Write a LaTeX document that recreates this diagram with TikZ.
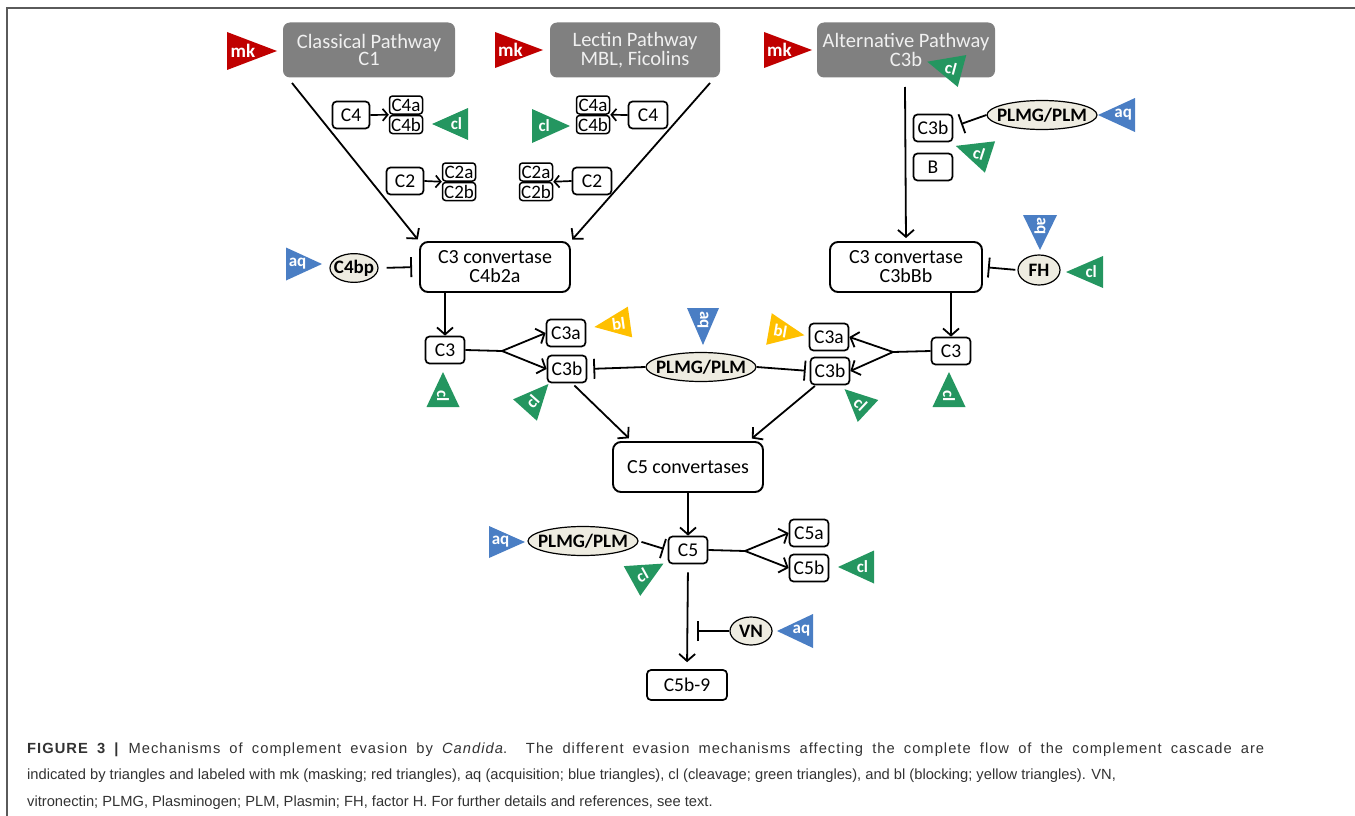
\documentclass[tikz,border=0pt]{standalone}
\usepackage{fontspec}
\setmainfont{Carlito}
\newfontfamily\capfont{Liberation Sans}
\usetikzlibrary{shapes,calc,arrows.meta,positioning}

\definecolor{pathgray}{RGB}{128,128,128}
\definecolor{mkred}{RGB}{192,0,0}
\definecolor{aqblue}{RGB}{74,126,196}
\definecolor{clgreen}{RGB}{36,150,96}
\definecolor{blyellow}{RGB}{255,192,0}
\definecolor{protfill}{RGB}{238,236,225}
\definecolor{framegray}{RGB}{90,90,90}
\definecolor{captext}{RGB}{50,50,50}

\tikzset{
  pathway/.style={fill=pathgray, rounded corners=7pt, text=white!94!black, align=center,
    font=\fontsize{20.5}{17.5}\selectfont, minimum width=172pt, minimum height=55pt},
  cbig/.style={draw, line width=1.9pt, rounded corners=8pt, align=center,
    font=\fontsize{20}{19}\selectfont, minimum width=150pt, minimum height=50pt},
  csmall/.style={draw, line width=1.7pt, rounded corners=4pt, inner sep=1pt,
    font=\fontsize{19.5}{20}\selectfont, minimum width=39pt, minimum height=27pt},
  cstack/.style={draw, line width=1.5pt, rounded corners=3pt, inner sep=0.5pt,
    font=\fontsize{19}{19}\selectfont, minimum width=33pt, minimum height=18pt},
  prot/.style={ellipse, draw, line width=1.2pt, fill=protfill, inner xsep=-6pt, inner ysep=2pt,
    font=\bfseries\fontsize{19}{19}\selectfont, minimum height=29pt},
  trilabel/.style={text=white, inner sep=0pt, font=\bfseries\fontsize{17}{17}\selectfont},
  act/.style={line width=1.8pt, -{Straight Barb[length=7pt, width=16pt]}},
  smallact/.style={line width=1.7pt, -{Straight Barb[length=5pt, width=12pt]}},
  inh/.style={line width=1.8pt, -{Bar[width=20pt]}},
  link/.style={line width=1.8pt},
  capline/.style={anchor=base west, inner sep=0pt, text=captext, font=\capfont\fontsize{14.7}{26.5}\selectfont}
}

% evasion triangle: name, base midpoint, apex angle, text angle, colour, label, length, half base
\newcommand{\evtri}[8]{%
  \begin{scope}[shift={#2}, rotate=#3]
    \fill[#5] (0,-#8) -- (#7,0) -- (0,#8) -- cycle;
    \node[trilabel, rotate=#4] (#1) at ({0.32*#7},0) {#6};
  \end{scope}}

\begin{document}
\begin{tikzpicture}[x=1pt, y=-1pt]
\useasboundingbox (0,0) rectangle (1355,816);
\draw[framegray, line width=2pt] (7,816) -- (7,8) -- (1355,8);

% pathways
\node[pathway] (cp) at (369,50) {Classical Pathway\\C1};
\node[pathway, minimum width=170pt] (lp) at (635,50) {Lectin Pathway\\MBL, Ficolins};
\node[pathway, minimum width=178pt] (ap) at (906,50) {Alternative Pathway\\C3b};

% classical
\node[csmall, minimum width=37pt] (c4c) at (351,115) {C4};
\node[cstack] (c4ac) at (406,105) {C4a};
\node[cstack, below=0pt of c4ac] (c4bc) {C4b};
\node[csmall, minimum width=37pt] (c2c) at (405,181) {C2};
\node[cstack] (c2ac) at (459,172) {C2a};
\node[cstack, below=0pt of c2ac] (c2bc) {C2b};

% lectin
\node[cstack] (c4al) at (593,105) {C4a};
\node[cstack, below=0pt of c4al] (c4bl) {C4b};
\node[csmall] (c4l) at (648,115) {C4};
\node[cstack] (c2al) at (536,172) {C2a};
\node[cstack, below=0pt of c2al] (c2bl) {C2b};
\node[csmall] (c2l) at (592,181) {C2};

% alternative
\node[csmall] (c3balt) at (933,128) {C3b};
\node[csmall] (bfac) at (933,167) {B};
\node[prot, minimum width=105pt] (plmalt) at (1042,115) {PLMG/PLM};

% convertases
\node[cbig] (cv1) at (495,267) {C3 convertase\\C4b2a};
\node[cbig, minimum width=152pt] (cv2) at (906,267) {C3 convertase\\C3bBb};
\node[prot, minimum width=48pt, minimum height=26pt] (c4bp) at (354,268) {C4bp};
\node[prot, minimum width=42pt, minimum height=30pt] (fh) at (1039,270) {FH};

% C3 level
\node[csmall] (c3l) at (445,350) {C3};
\node[csmall] (c3al) at (566,333) {C3a};
\node[csmall] (c3bl) at (567,369) {C3b};
\node[prot, minimum width=105pt] (plmmid) at (701,367) {PLMG/PLM};
\node[csmall] (c3ar) at (829,337) {C3a};
\node[csmall] (c3br) at (830,371) {C3b};
\node[csmall] (c3r) at (951,351) {C3};

% C5 level
\node[cbig] (c5c) at (688,467) {C5 convertases};
\node[csmall] (c5) at (688,550) {C5};
\node[prot, minimum width=102pt] (plmbot) at (583,541) {PLMG/PLM};
\node[csmall] (c5a) at (809,533) {C5a};
\node[csmall] (c5b) at (809,568) {C5b};
\node[prot, minimum width=42pt, minimum height=28pt] (vn) at (751,631) {VN};
\node[csmall, minimum width=80pt, minimum height=30pt] (c5b9) at (687,685) {C5b-9};

\coordinate (clstart) at (292,83);
\coordinate (lestart) at (710,83);
\coordinate (alstart) at (905,87);
\coordinate (splitl) at (502,351);
\coordinate (splitr) at (893,352);
\coordinate (split5) at (745,551);
\coordinate (altbar) at (961,124);
\coordinate (vnbar) at (697,631);

% connectors
\draw[act, shorten >=2pt] (clstart) -- (cv1.north west);
\draw[act, shorten >=2pt] (lestart) -- (cv1.north east);
\draw[act, shorten >=3pt] (alstart) -- (cv2.north);
\draw[smallact] (c4c.east) -- (c4ac.south west);
\draw[smallact] (c2c.east) -- (c2ac.south west);
\draw[smallact] (c4l.west) -- (c4al.south east);
\draw[smallact] (c2l.west) -- (c2al.south east);
\draw[inh] (plmalt.west) -- (altbar);
\draw[inh, shorten <=8pt, shorten >=7pt] (c4bp.east) -- (cv1.west);
\draw[inh, shorten <=2pt, shorten >=5pt] (fh.west) -- (cv2.east);
\draw[act] (c3l.north |- cv1.south) -- (c3l.north);
\draw[act] (c3r.north |- cv2.south) -- (c3r.north);
\draw[link] (c3l.east) -- (splitl);
\draw[act] (splitl) -- (c3al.west);
\draw[act] (splitl) -- (c3bl.west);
\draw[link] (c3r.west) -- (splitr);
\draw[act] (splitr) -- (c3ar.east);
\draw[act] (splitr) -- (c3br.east);
\draw[inh, shorten >=6pt] (plmmid.west) -- (c3bl.east);
\draw[inh, shorten >=4pt] (plmmid.east) -- (c3br.west);
\draw[act, shorten <=3pt, shorten >=4pt] (c3bl.290) -- ($(c5c.north west)!0.13!(c5c.north east)$);
\draw[act, shorten <=1pt, shorten >=4pt] (c3br.225) -- ($(c5c.north east)!0.1!(c5c.north west)$);
\draw[act] (c5c.south) -- (c5.north);
\draw[inh, shorten <=3pt, shorten >=4pt] (plmbot.east) -- (c5.west);
\draw[link] (c5.east) -- (split5);
\draw[act] (split5) -- (c5a.west);
\draw[act] (split5) -- (c5b.west);
\draw[act, shorten <=8pt, shorten >=7pt] (c5.south) -- (c5b9.north);
\draw[inh] (vn.west) -- (vnbar);

% evasion triangles
\evtri{mkc}{(227,51)}{0}{0}{mkred}{\fontsize{19}{19}\selectfont mk}{50}{19}
\evtri{mkl}{(495,50)}{0}{0}{mkred}{\fontsize{19}{19}\selectfont mk}{48}{18}
\evtri{mka}{(764,50)}{0}{0}{mkred}{\fontsize{19}{19}\selectfont mk}{48}{18}
\evtri{clc4c}{(468,124)}{180}{0}{clgreen}{cl}{36}{16}
\evtri{clc4l}{(532,126)}{0}{0}{clgreen}{cl}{38}{17}
\evtri{clap}{(962,71)}{165}{-15}{clgreen}{cl}{36}{16.5}
\evtri{clc3balt}{(990,157)}{162}{-18}{clgreen}{cl}{36}{16.5}
\evtri{aqalt}{(1135,115)}{180}{0}{aqblue}{aq}{37}{17}
\evtri{aqc4bp}{(286,264)}{0}{0}{aqblue}{aq}{36}{16.5}
\evtri{aqfh}{(1040,215)}{-90}{-90}{aqblue}{aq}{35}{17}
\evtri{clfh}{(1103,272)}{180}{0}{clgreen}{cl}{37}{16}
\evtri{blleft}{(630,322)}{-172}{8}{blyellow}{bl}{36}{15.5}
\evtri{blright}{(769,329)}{-10}{-10}{blyellow}{bl}{36}{16}
\evtri{aqmid}{(703,308)}{-90}{-90}{aqblue}{aq}{37}{16}
\evtri{clc3l}{(443,407)}{90}{-90}{clgreen}{cl}{35}{16.5}
\evtri{clc3r}{(949,407)}{90}{-90}{clgreen}{cl}{35}{16.5}
\evtri{clc3bl}{(525,410)}{48}{48}{clgreen}{cl}{35}{16}
\evtri{clc3br}{(868,411)}{137}{-43}{clgreen}{cl}{32}{15}
\evtri{clc5}{(632,581)}{29}{29}{clgreen}{cl}{36}{17}
\evtri{aqplm}{(489,542)}{0}{0}{aqblue}{aq}{36}{16}
\evtri{clc5b}{(874,567)}{180}{0}{clgreen}{cl}{36}{16.5}
\evtri{aqvn}{(813,631)}{180}{0}{aqblue}{aq}{36}{17}

% caption
\node[capline] (cap1) at (27,753) {\addfontfeature{LetterSpace=7}\makebox[1237pt][s]{\textbf{FIGURE 3 |} Mechanisms of complement evasion by \textit{Candida}. The different evasion mechanisms affecting the complete flow of the complement cascade are}};
\node[capline] (cap2) at (27,779) {indicated by triangles and labeled with mk (masking; red triangles), aq (acquisition; blue triangles), cl (cleavage; green triangles), and bl (blocking; yellow triangles). VN,};
\node[capline] (cap3) at (27,806) {vitronectin; PLMG, Plasminogen; PLM, Plasmin; FH, factor H. For further details and references, see text.};
\end{tikzpicture}
\end{document}
